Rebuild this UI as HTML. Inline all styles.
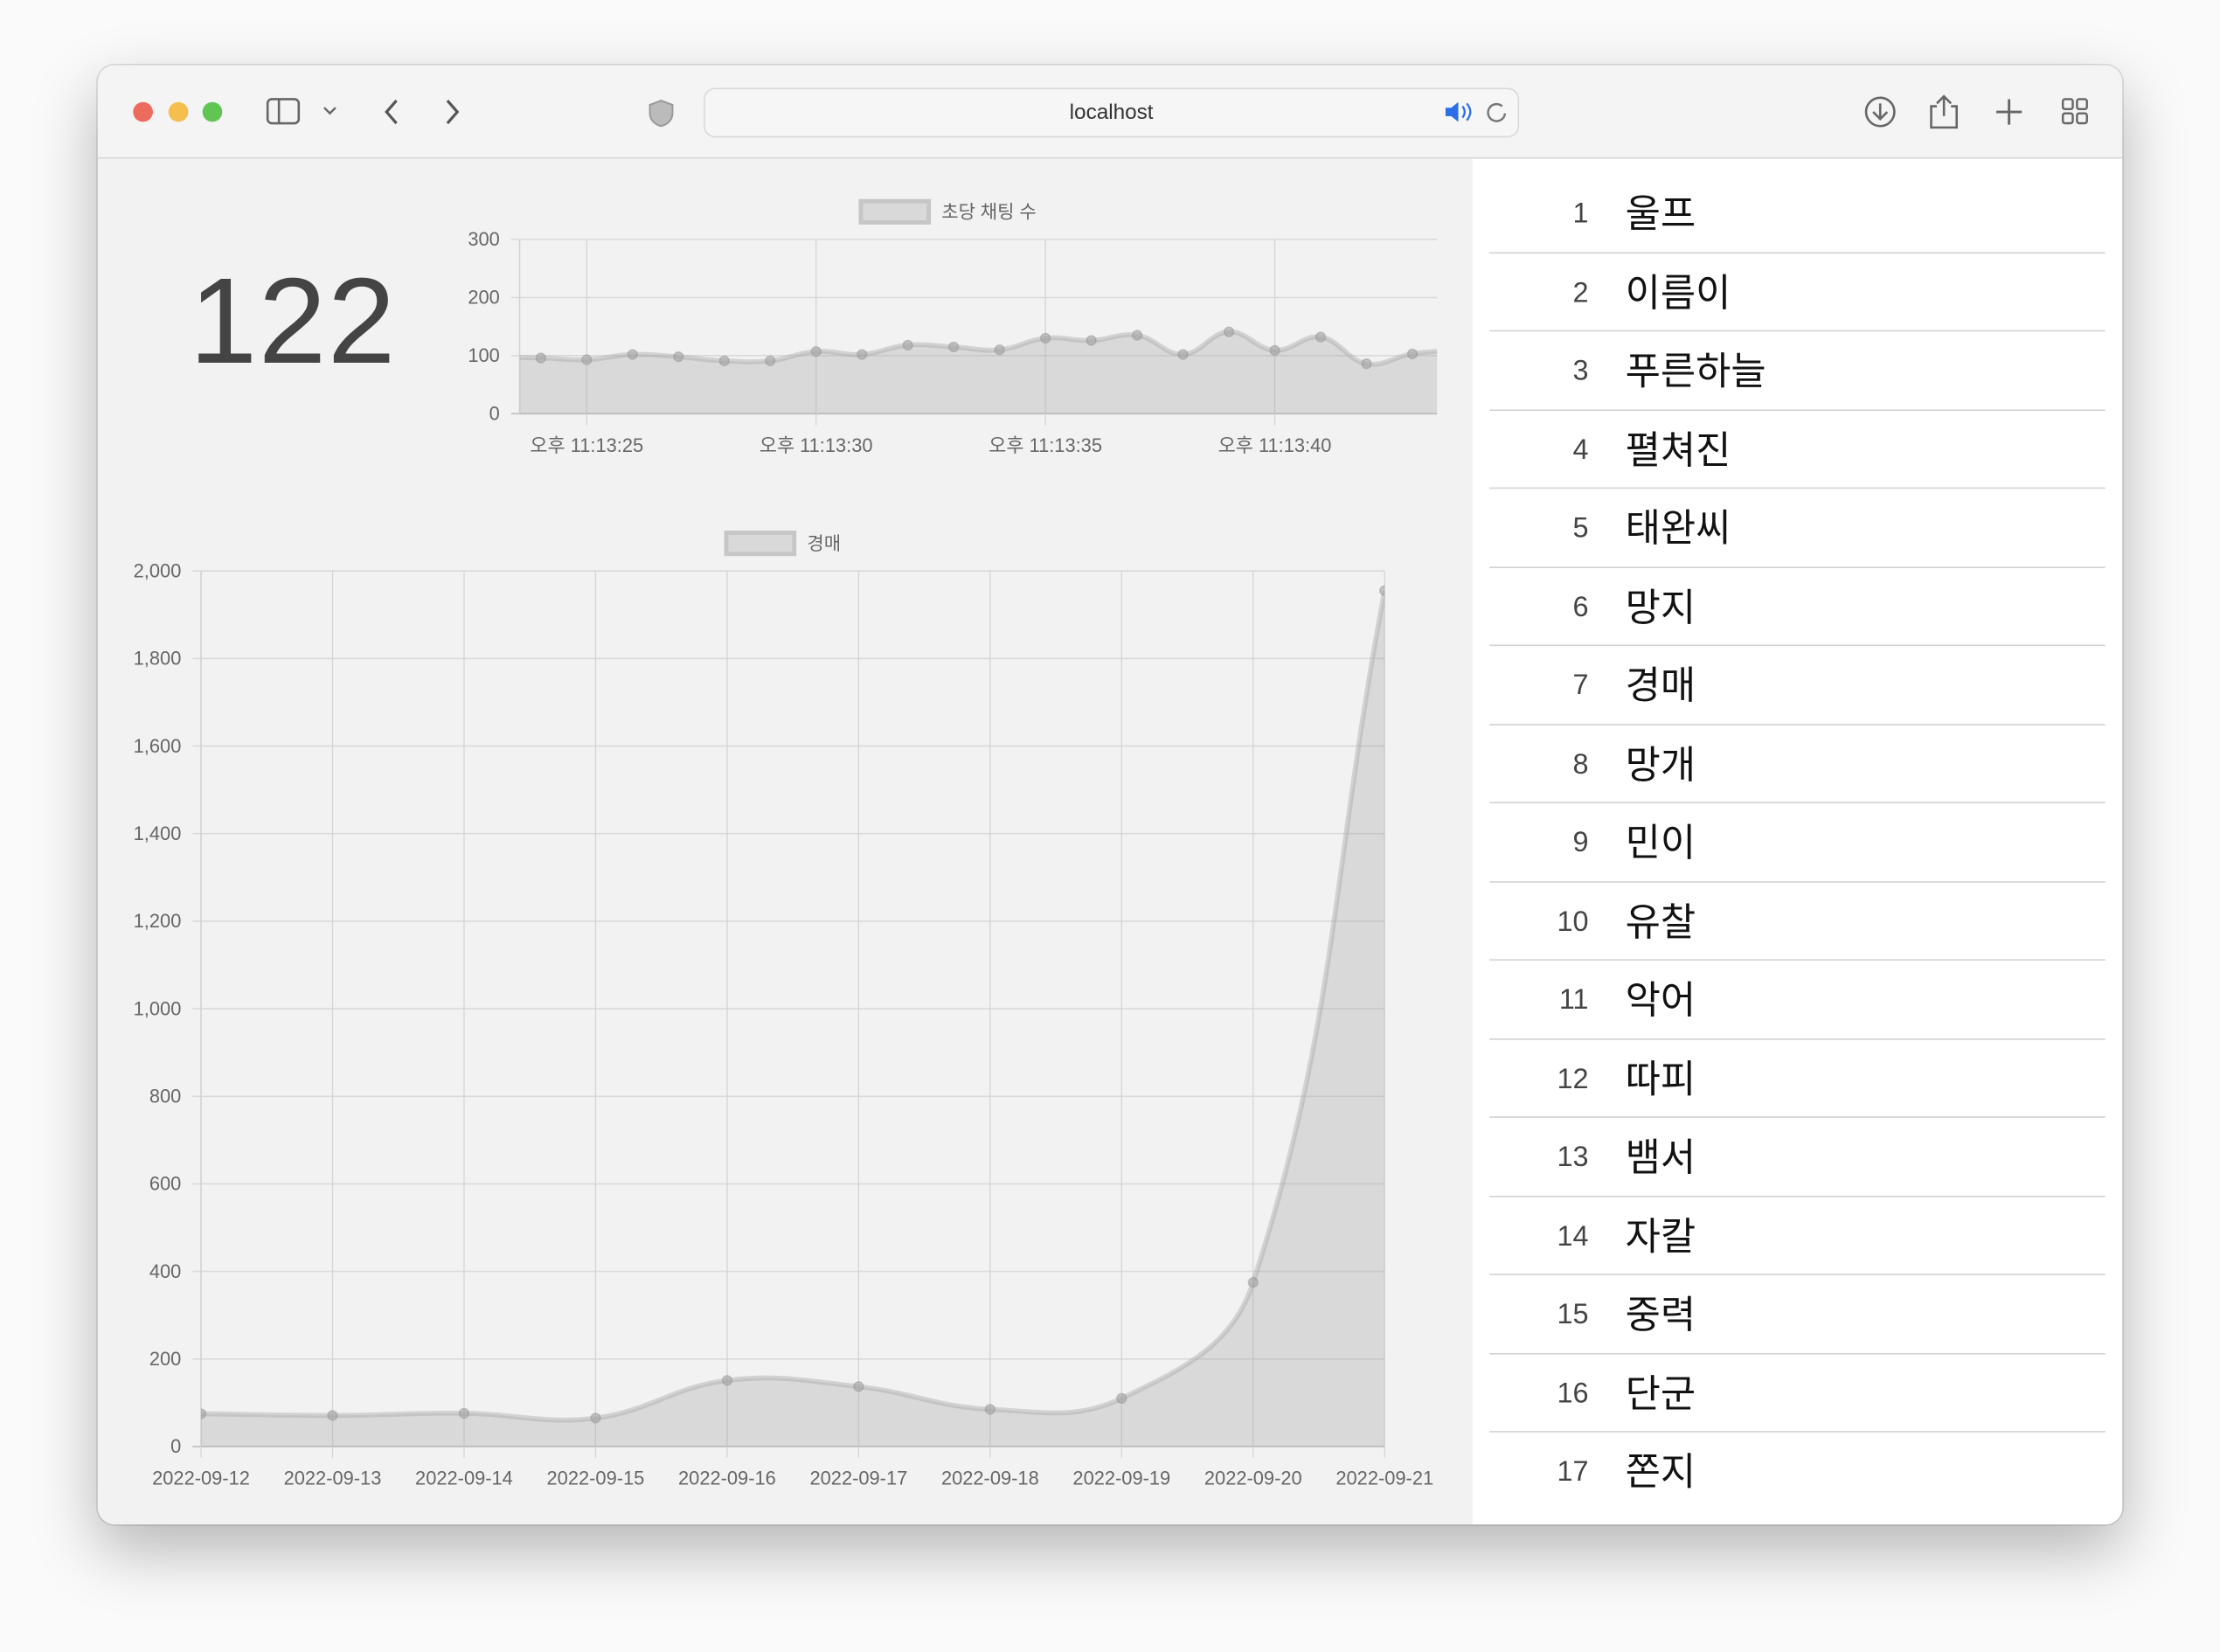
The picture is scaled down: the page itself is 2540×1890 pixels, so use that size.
<!DOCTYPE html>
<html><head><meta charset="utf-8">
<style>
html,body{margin:0;padding:0;width:2540px;height:1890px;overflow:hidden;background:#fafafa;}
#scaler{position:absolute;left:0;top:0;width:1568px;height:1166px;transform:scale(1.6199,1.6209);transform-origin:0 0;font-family:"Liberation Sans","Noto Sans CJK KR",sans-serif;}
#win{position:absolute;left:69px;top:46px;width:1430px;height:1030px;border-radius:12px;overflow:hidden;background:#f2f2f2;box-shadow:0 18px 45px rgba(0,0,0,0.28),0 0 0 1px rgba(0,0,0,0.12);}
#toolbar{position:absolute;left:0;top:0;width:1430px;height:65px;background:#f4f4f4;border-bottom:1px solid #d6d6d6;}
.dot{position:absolute;top:26px;width:14px;height:14px;border-radius:50%;}
#url{position:absolute;left:428px;top:16px;width:574px;height:33px;border:1px solid #d9d9d9;border-radius:8px;background:#f6f6f6;text-align:center;line-height:33px;font-size:15px;color:#333;}
#list{position:absolute;left:971px;top:66px;width:459px;height:964px;background:#fff;overflow:hidden;}
.row{position:absolute;left:12px;width:435px;height:55.5px;border-bottom:1.5px solid #d2d2d2;}
.row:last-child{border-bottom:none;}
.num{position:absolute;right:365px;top:18px;font-size:20px;color:#444;}
.name{position:absolute;left:96px;top:7px;font-size:27px;color:#111;}
#big{position:absolute;left:69px;top:178px;width:276px;text-align:center;font-size:86px;color:#444;font-weight:300;letter-spacing:1px;}
svg text{font-family:"Liberation Sans","Noto Sans CJK KR",sans-serif;}
</style></head><body>
<div id="scaler">
<div id="win">
  <div id="toolbar">
    <div class="dot" style="left:25px;background:#ed6a5e"></div>
    <div class="dot" style="left:50px;background:#f5bf4f"></div>
    <div class="dot" style="left:74px;background:#61c554"></div>
    <svg style="position:absolute;left:118px;top:20px" width="300" height="26">
      <rect x="2" y="4" width="22" height="17" rx="3" fill="none" stroke="#666" stroke-width="1.6"/>
      <line x1="10" y1="4" x2="10" y2="21" stroke="#666" stroke-width="1.6"/>
      <path d="M42 10 l4 4 l4 -4" fill="none" stroke="#666" stroke-width="1.5"/>
      <path d="M93 5 l-7 8 l7 8" fill="none" stroke="#555" stroke-width="2"/>
      <path d="M129 5 l7 8 l-7 8" fill="none" stroke="#555" stroke-width="2"/>
      <path d="M280 5 l8 3 v6 c0 5 -4 8 -8 9 c-4 -1 -8 -4 -8 -9 v-6z" fill="#bbb" stroke="#999" stroke-width="1.2"/>
    </svg>
    <div id="url">localhost</div>
    <svg style="position:absolute;left:948px;top:22px" width="50" height="22">
      <path d="M4 8 h4 l5 -4 v14 l-5 -4 h-4z" fill="#2a6ee8"/>
      <path d="M16 7 q3 4 0 8 M19 5 q5 6 0 12" fill="none" stroke="#2a6ee8" stroke-width="1.4"/>
      <path d="M44 7 a6 6 0 1 0 2 5" fill="none" stroke="#777" stroke-width="1.5"/>
    </svg>
    <svg style="position:absolute;left:1240px;top:20px" width="180" height="26">
      <circle cx="19" cy="13" r="10" fill="none" stroke="#666" stroke-width="1.6"/>
      <path d="M19 7 v11 M14 13 l5 5 l5 -5" fill="none" stroke="#666" stroke-width="1.6"/>
      <path d="M59 9 h-4 v15 h18 v-15 h-4 M64 2 v14 M59 7 l5 -5 l5 5" fill="none" stroke="#666" stroke-width="1.6"/>
      <path d="M110 4 v18 M101 13 h18" stroke="#666" stroke-width="1.8"/>
      <g fill="none" stroke="#666" stroke-width="1.5">
        <rect x="148" y="4" width="7" height="7" rx="1.5"/><rect x="158" y="4" width="7" height="7" rx="1.5"/>
        <rect x="148" y="14" width="7" height="7" rx="1.5"/><rect x="158" y="14" width="7" height="7" rx="1.5"/>
      </g>
    </svg>
  </div>
  <div id="list"></div>
</div>
<div id="big">122</div>
<svg id="chart1" style="position:absolute;left:0;top:0" width="1040" height="1166"></svg>
</div>
<script>
// ---- ranking data ----
const rankNames = ["울프","이름이","푸른하늘","펼쳐진","태완씨","망지","경매","망개","민이","유찰","악어","따피","뱀서","자칼","중력","단군","쫀지"];
const list = document.getElementById('list');
rankNames.forEach((n,i)=>{
  const r=document.createElement('div');r.className='row';r.style.top=(10+i*55.5)+'px';
  
  
  r.innerHTML='<span class="num">'+(i+1)+'</span><span class="name">'+n+'</span>';
  list.appendChild(r);
});

// ---- chart 1 data (chats per second) ----
const rateValues = [97,96,93,102,98,91,91,107,102,118,115,110,130,126,135,102,141,109,132,86,103,110];
const rateTickLabels = ["오후 11:13:25","오후 11:13:30","오후 11:13:35","오후 11:13:40"];
const rateTickIdx = [2,7,12,17];
const rateYTicks = [0,100,200,300];

// ---- chart 2 data (경매 daily) ----
const dayLabels = ["2022-09-12","2022-09-13","2022-09-14","2022-09-15","2022-09-16","2022-09-17","2022-09-18","2022-09-19","2022-09-20","2022-09-21"];
const dayValues = [75,71,76,65,151,137,85,110,375,1955];
const dayYTicks = [0,200,400,600,800,1000,1200,1400,1600,1800,2000];

const svg=document.getElementById('chart1');
const NS='http://www.w3.org/2000/svg';
function el(tag,attrs,parent){const e=document.createElementNS(NS,tag);for(const k in attrs)e.setAttribute(k,attrs[k]);(parent||svg).appendChild(e);return e;}
function spline(pts,t){
  let d='M'+pts[0][0]+' '+pts[0][1];
  const cps=pts.map((p,i)=>{
    const pr=pts[Math.max(0,i-1)],nx=pts[Math.min(pts.length-1,i+1)];
    const d01=Math.hypot(p[0]-pr[0],p[1]-pr[1]),d12=Math.hypot(nx[0]-p[0],nx[1]-p[1]);
    const s=d01+d12||1;const fa=t*d01/s,fb=t*d12/s;
    return {a:[p[0]-fa*(nx[0]-pr[0]),p[1]-fa*(nx[1]-pr[1])],b:[p[0]+fb*(nx[0]-pr[0]),p[1]+fb*(nx[1]-pr[1])]};
  });
  for(let i=1;i<pts.length;i++){d+=' C'+cps[i-1].b[0]+' '+cps[i-1].b[1]+' '+cps[i].a[0]+' '+cps[i].a[1]+' '+pts[i][0]+' '+pts[i][1];}
  return d;
}
function drawChart(o){
  const g=el('g',{});
  
  
  const cid=o.name+'-clip';
  const cp=el('clipPath',{id:cid},g);el('rect',{x:o.x0,y:o.y1-2,width:o.x1-o.x0,height:o.y0-o.y1+4},cp);
  const ys=v=>o.y0-(v-o.ymin)/(o.ymax-o.ymin)*(o.y0-o.y1);
  const lg=el('g',{},g);
  
  
  el('rect',{x:o.lx,y:o.ly,width:48,height:15,fill:'#d9d9d9',stroke:'#c6c6c6','stroke-width':3},lg);
  const lt=el('text',{x:o.lx+57,y:o.ly+12,'font-size':13,fill:'#666'},lg);lt.textContent=o.legend;
  o.yTicks.forEach(v=>{
    const y=ys(v);
    const gl=el('line',{x1:o.x0-6,x2:o.x1,y1:y,y2:y,stroke:v===0?'#bdbdbd':'#dadada','stroke-width':1},g);
    
    const t=el('text',{x:o.x0-14,y:y+4.5,'font-size':13.5,fill:'#666','text-anchor':'end'},g);
    t.textContent=o.fmt(v);
    
  });
  o.xTicks.forEach((tk,i)=>{
    const x=o.xs(tk.i);
    el('line',{x1:x,x2:x,y1:o.y1,y2:o.y0+8,stroke:'#d4d4d4','stroke-width':0.8},g);
    const t=el('text',{x:x,y:o.y0+27,'font-size':13.5,fill:'#666','text-anchor':'middle'},g);
    t.textContent=tk.label;
    
  });
  el('line',{x1:o.x0,x2:o.x0,y1:o.y1,y2:o.y0,stroke:'#d4d4d4','stroke-width':1},g);
  const pts=o.values.map((v,i)=>[o.xs(i),ys(v)]);
  const d=spline(pts,0.4);
  const cg=el('g',{'clip-path':'url(#'+cid+')'},g);
  const area=el('path',{d:d+' L'+pts[pts.length-1][0]+' '+o.y0+' L'+pts[0][0]+' '+o.y0+' Z',fill:'rgba(160,160,160,0.3)'},cg);
  
  const line=el('path',{d:d,fill:'none',stroke:'rgba(170,170,170,0.45)','stroke-width':3.5},cg);
  
  pts.forEach(p=>{
    const c=el('circle',{cx:p[0],cy:p[1],r:3.3,fill:'rgba(160,160,160,0.55)',stroke:'rgba(150,150,150,0.5)','stroke-width':1},cg);
    
    
  });
}
drawChart({name:'chat-rate-chart',x0:367,x1:1015,y0:292,y1:169,ymin:0,ymax:300,
  xs:i=>382+(i-1)*32.4,values:rateValues,yTicks:rateYTicks,fmt:v=>String(v),
  xTicks:rateTickIdx.map((ix,k)=>({i:ix,label:rateTickLabels[k]})),
  legend:'초당 채팅 수',lx:608,ly:142});
drawChart({name:'auction-daily-chart',x0:142,x1:978,y0:1021,y1:403,ymin:0,ymax:2000,
  xs:i=>142+i*(978-142)/(dayLabels.length-1),values:dayValues,yTicks:dayYTicks,
  fmt:v=>v.toLocaleString('en-US'),
  xTicks:dayLabels.map((l,i)=>({i:i,label:l})),
  legend:'경매',lx:513,ly:376});
</script>
</body></html>
